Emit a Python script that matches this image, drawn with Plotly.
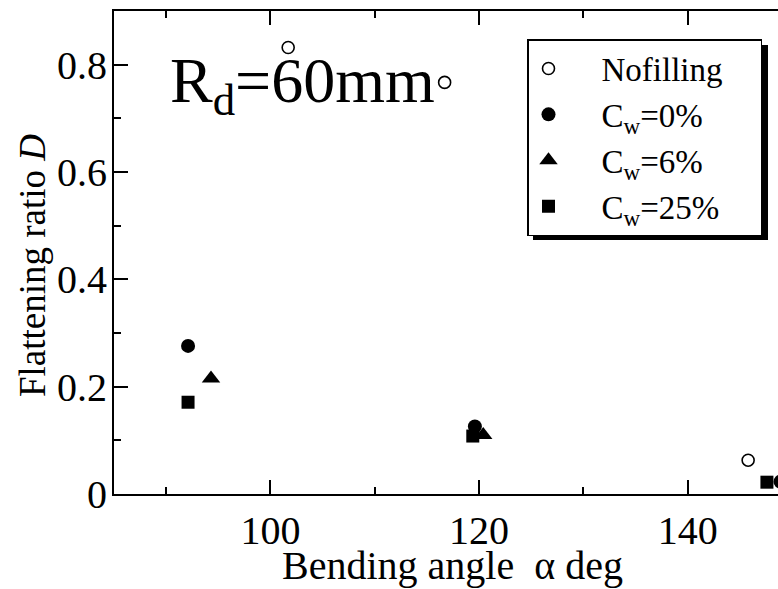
import plotly.graph_objects as go

# Flattening ratio D against bending angle, die radius 60 mm
nofill_x = [101.7, 116.7, 145.8]
nofill_y = [0.832, 0.767, 0.063]

cw0_x = [92.1, 119.6, 148.9]
cw0_y = [0.276, 0.126, 0.023]

cw6_x = [94.3, 120.4]
cw6_y = [0.215, 0.110]

cw25_x = [92.1, 119.4, 147.6]
cw25_y = [0.171, 0.108, 0.022]

series_names = ["Nofilling", "C<sub>w</sub>=0%", "C<sub>w</sub>=6%", "C<sub>w</sub>=25%"]

FONT = "'Liberation Serif', 'Times New Roman', Times, 'DejaVu Serif', serif"
W, H = 778, 589
ML, MT, MB, MR = 114, 11, 95, 0
PW, PH = W - ML - MR, H - MT - MB


def px_to_paper(px, py):
    return (px - ML) / PW, (H - MB - py) / PH


def legend_label(name):
    # em spaces widen the gap between key and text and pad the box on the right
    return "\u2003" + name + "\u2003"


fig = go.Figure()
fig.add_trace(go.Scatter(
    x=nofill_x, y=nofill_y, mode="markers", name=legend_label(series_names[0]),
    marker=dict(symbol="circle-open", size=12, color="black", line=dict(width=1.6, color="black")),
))
fig.add_trace(go.Scatter(
    x=cw0_x, y=cw0_y, mode="markers", name=legend_label(series_names[1]),
    marker=dict(symbol="circle", size=14, color="black"),
))
fig.add_trace(go.Scatter(
    x=cw6_x, y=cw6_y, mode="markers", name=legend_label(series_names[2]),
    marker=dict(symbol="triangle-up", size=16, color="black"),
))
fig.add_trace(go.Scatter(
    x=cw25_x, y=cw25_y, mode="markers", name=legend_label(series_names[3]),
    marker=dict(symbol="square", size=13, color="black"),
))

axis_common = dict(
    showgrid=False, zeroline=False, showline=True, linecolor="black", linewidth=2,
    ticks="inside", ticklen=14, tickwidth=2, tickcolor="black",
    tickfont=dict(family=FONT, size=40, color="black"),
)

fig.update_xaxes(
    range=[85, 85 + PW / 10.43], tick0=100, dtick=20, mirror="ticks",
    minor=dict(ticks="inside", ticklen=7, tickwidth=2, tickcolor="black", dtick=10, tick0=0),
    **axis_common,
)
fig.update_yaxes(
    range=[0, 0.9], tick0=0, dtick=0.2, ticklabelstandoff=-3,
    minor=dict(ticks="inside", ticklen=7, tickwidth=2, tickcolor="black", dtick=0.1, tick0=0),
    **axis_common,
)

# Legend box with a drop shadow drawn underneath it
lx, ly = px_to_paper(527, 39)
fig.update_layout(
    legend=dict(
        x=lx, y=ly, xanchor="left", yanchor="top",
        bgcolor="white", bordercolor="black", borderwidth=1.5,
        font=dict(family=FONT, size=33, color="black"),
        tracegroupgap=0,
    )
)
sx0, sy1 = px_to_paper(533, 45)
sx1, sy0 = px_to_paper(768, 240)
fig.add_shape(type="rect", xref="paper", yref="paper", x0=sx0, x1=sx1, y0=sy0, y1=sy1,
              fillcolor="black", line=dict(width=0), layer="above")

# Panel label
tx, ty = px_to_paper(168, 85)
fig.add_annotation(
    x=tx, y=ty, xref="paper", yref="paper", xanchor="left", yanchor="middle",
    text="R<sub>d</sub>=60mm", showarrow=False,
    font=dict(family=FONT, size=64, color="black"),
)

# Axis titles
ax_x, ax_y = px_to_paper(452, 565)
fig.add_annotation(
    x=ax_x, y=ax_y, xref="paper", yref="paper", xanchor="center", yanchor="middle",
    text="Bending angle  \u03b1 deg", showarrow=False,
    font=dict(family=FONT, size=40, color="black"),
)
ay_x, ay_y = px_to_paper(32, 266)
fig.add_annotation(
    x=ay_x, y=ay_y, xref="paper", yref="paper", xanchor="center", yanchor="middle",
    text="Flattening ratio <i>D</i>", textangle=-90, showarrow=False,
    font=dict(family=FONT, size=37, color="black"),
)

fig.update_layout(
    width=W, height=H, autosize=False,
    margin=dict(l=ML, r=MR, t=MT, b=MB, pad=0),
    paper_bgcolor="white", plot_bgcolor="white",
    font=dict(family=FONT, color="black"),
    showlegend=True,
)

fig.write_html("out.html")
